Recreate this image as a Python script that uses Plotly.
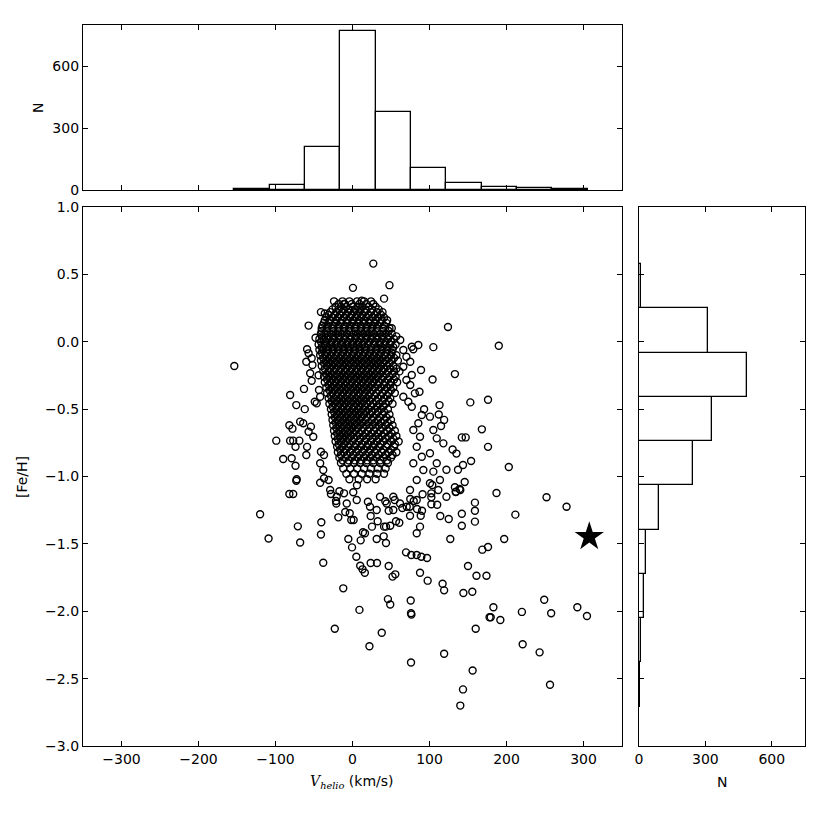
import plotly.graph_objects as go

# ---------------- data ----------------
# Top histogram of V_helio (km/s): bin edges and counts
top_edges = [-153.4, -107.5, -61.7, -15.8, 30.1, 75.9, 121.8, 167.7, 213.5, 259.4, 305.3]
top_counts = [3, 26, 207, 771, 377, 107, 35, 16, 8, 4]

# Right histogram of [Fe/H]: bin edges and counts
right_edges = [-2.708, -2.379, -2.051, -1.722, -1.394, -1.065, -0.737, -0.408, -0.080, 0.249, 0.577]
right_counts = [5, 8, 22, 30, 90, 243, 328, 486, 312, 9]

# Isolated stars (V_helio, [Fe/H])
halo_points = [
    (27, 0.58), (0.6, 0.40), (48, 0.42), (41, 0.32), (-24, 0.30), (-11, 0.28), (12, 0.305),
    (124, 0.11), (-57, 0.12), (-41, 0.22), (-36, 0.21), (-30, 0.16), (105, -0.04), (190, -0.03),
    (133, -0.24), (104, -0.28), (-153.5, -0.18), (-81, -0.395), (-63, -0.35), (-73, -0.47),
    (-62, -0.50), (-82, -0.62), (-78, -0.645), (-99, -0.734), (-81, -0.734), (-77, -0.734),
    (-69, -0.734), (-74, -0.78), (-59, -0.78), (-90, -0.87), (-79, -0.865), (-60, -0.84),
    (-74, -0.92), (-72.5, -1.02), (-82, -1.13), (-77, -1.13), (113, -0.47), (119, -0.58),
    (112, -0.54), (130, -0.80), (135, -0.83), (134, -1.115), (153, -0.45), (176, -0.43),
    (168, -0.65), (147, -0.71), (142, -0.71), (176, -0.78), (203, -0.93), (115, -0.625),
    (137, -0.95), (122, -0.95), (133, -1.08), (143.5, -0.915), (154, -0.885), (140, -1.10),
    (-120, -1.28), (-109, -1.46), (-71, -1.37), (-68, -1.49), (-40.5, -1.34), (-41, -1.43),
    (-38, -1.64), (-12, -1.83), (9, -1.99), (-23, -2.13), (22, -2.26), (38, -2.16), (76, -2.38),
    (76, -2.015), (76.5, -2.025), (46, -1.91), (49, -1.95), (75.6, -1.92), (119, -2.315),
    (156, -2.44), (143.5, -2.58), (140, -2.70), (160, -2.13), (178, -2.045), (179.5, -2.045),
    (183, -1.97), (192, -2.065), (220, -2.005), (221, -2.245), (243, -2.305), (249, -1.915),
    (258, -2.015), (256.5, -2.545), (292, -1.97), (304.5, -2.035), (278, -1.224), (252, -1.154),
    (211.5, -1.283), (197, -1.464), (187, -1.122), (168.6, -1.543), (176, -1.523), (150, -1.664),
    (161, -1.736), (174, -1.736), (155.6, -1.855), (144, -1.865), (119, -1.845), (117, -1.796),
    (97.6, -1.773), (87.7, -1.714), (127, -1.464), (142, -1.365), (142, -1.276), (159, -1.335),
    (159, -1.254), (159, -1.194), (125, -1.315), (114, -1.293), (134.4, -1.113), (139, -1.093),
    (145.7, -1.041), (110, -1.21), (102.4, -1.154), (102.4, -1.206), (103.6, -1.063),
    (69.5, -1.563), (76.4, -1.583), (83.4, -1.583), (89.4, -1.595), (96.8, -1.605), (87.7, -1.372),
    (83.4, -1.421), (74.7, -1.291), (74.3, -1.224), (88.6, -1.291), (90.3, -1.254), (83.8, -1.241),
    (64.7, -1.234), (60.8, -1.343), (56.5, -1.332), (49, -1.365), (43.5, -1.372), (41, -1.372),
    (40.5, -1.444), (43.5, -1.494), (31.4, -1.464), (47, -1.664), (52, -1.743), (55.6, -1.726),
    (23.6, -1.642), (31.8, -1.642), (10, -1.662), (13, -1.689), (16, -1.714), (5, -1.595),
    (-0.6, -1.526), (-5.4, -1.464), (10.6, -1.474), (13.6, -1.414), (16.2, -1.421), (25.3, -1.372),
    (32.7, -1.332), (23.6, -1.293), (31.4, -1.249), (-18.4, -1.303), (-9.4, -1.263), (-3.6, -1.273),
    (-1.6, -1.323), (1.5, -1.323), (5.5, -1.174), (20, -1.187), (42.6, -1.184), (54.8, -1.174),
    (75, -1.167), (79.5, -1.182), (91, -1.132), (102.4, -1.125), (-21.4, -1.182), (-21, -1.2),
    (-28, -1.13), (-17, -1.11), (-11, -1.125), (1, -1.117), (5.8, -1.065), (-42, -1.046),
    (-73, -1.031), (47, -1.254), (53, -1.249),
]

# Stars on the edge of the dense clump (V_helio, [Fe/H])
fringe_points = [
    (-48, 0.03), (-59, -0.056), (-57, -0.086), (-60, -0.148), (-53, -0.123), (-52, -0.173),
    (-55, -0.234), (-53, -0.289), (-44, -0.249), (-43.5, -0.358), (-42, -0.408), (-49, -0.445),
    (-46.5, -0.457), (-68, -0.593), (-64, -0.605), (-54, -0.63), (-57, -0.668), (-51, -0.705),
    (-41, -0.816), (-37, -0.84), (-42, -0.902), (-38, -0.952), (-31, -1.026), (-37, -1.013),
    (-29, -1.10), (-20.5, -1.15), (62, 0.013), (66, -0.061), (77, -0.037), (85.5, -0.024),
    (79, -0.056), (70, -0.111), (75, -0.148), (66, -0.185), (89, -0.21), (77, -0.247),
    (70, -0.284), (75, -0.321), (81, -0.383), (87, -0.371), (66, -0.408), (72.5, -0.445),
    (77, -0.482), (93, -0.501), (90, -0.544), (100.6, -0.556), (85.5, -0.605), (79, -0.655),
    (87.7, -0.705), (105, -0.655), (109.4, -0.717), (118, -0.754), (100.6, -0.828),
    (109.4, -0.902), (105, -0.964), (113.6, -1.026), (100.6, -1.05), (111.4, -1.10),
    (83.4, -0.779), (90, -0.853), (79, -0.902), (92, -0.952), (83.4, -1.026), (74.7, -1.10),
    (83.4, -1.174), (70.4, -1.224), (61.7, -1.20), (122, -1.15), (35.7, -1.15), (44.4, -1.20),
    (22.7, -1.224), (-7.5, -1.20), (53, -1.15), (51, 0.10), (57, 0.04),
]

# Dense clump, read row by row: ([Fe/H] of the row, V_helio values along it)
core_rows = [
    (0.30, [-13, -4, 6, 15, 24]),
    (0.28, [-18, -10, -1, 9, 18, 27]),
    (0.26, [-22, -15, -8, 0, 7, 13, 21, 30]),
    (0.24, [-26, -18, -11, -4, 3, 10, 17, 25, 34]),
    (0.22, [-29, -21, -13, -6, 2, 9, 16, 24, 32, 39]),
    (0.20, [-31, -23, -16, -8, -1, 6, 13, 21, 29, 37]),
    (0.18, [-34, -26, -19, -11, -3, 4, 11, 18, 26, 33, 41]),
    (0.16, [-36, -29, -21, -14, -7, 1, 8, 15, 22, 30, 38, 45]),
    (0.14, [-37, -30, -22, -15, -7, 0, 8, 15, 22, 29, 36, 44]),
    (0.12, [-39, -32, -25, -18, -10, -3, 4, 11, 19, 26, 33, 41]),
    (0.10, [-40, -33, -26, -18, -11, -4, 3, 11, 18, 25, 32, 40, 48]),
    (0.08, [-40, -33, -25, -18, -11, -4, 4, 11, 18, 25, 32, 40, 47]),
    (0.06, [-41, -35, -28, -21, -14, -7, 1, 7, 14, 21, 28, 36, 43, 51]),
    (0.04, [-40, -32, -25, -18, -10, -3, 4, 11, 18, 25, 32, 39, 47]),
    (0.02, [-43, -37, -31, -24, -17, -10, -3, 4, 11, 18, 25, 32, 39, 46, 54]),
    (0.00, [-41, -34, -27, -20, -13, -6, 1, 8, 15, 22, 29, 36, 43, 50]),
    (-0.02, [-44, -36, -29, -22, -15, -8, -1, 6, 13, 20, 28, 35, 42, 49, 56]),
    (-0.04, [-40, -33, -26, -19, -12, -5, 2, 9, 16, 24, 31, 38, 45, 53]),
    (-0.06, [-43, -38, -32, -25, -18, -11, -4, 3, 10, 17, 24, 31, 38, 45, 52]),
    (-0.08, [-40, -33, -26, -19, -12, -5, 2, 9, 16, 23, 30, 37, 44, 51]),
    (-0.10, [-42, -35, -28, -21, -14, -7, 0, 7, 14, 21, 28, 35, 42, 50, 57]),
    (-0.12, [-38, -31, -24, -17, -10, -3, 4, 11, 18, 25, 32, 39, 47, 54]),
    (-0.14, [-41, -34, -27, -20, -13, -6, 1, 8, 15, 22, 29, 36, 43, 51, 59]),
    (-0.16, [-37, -30, -23, -16, -9, -2, 5, 12, 19, 26, 33, 40, 48]),
    (-0.18, [-40, -33, -26, -19, -12, -5, 2, 9, 16, 23, 30, 37, 45, 53]),
    (-0.20, [-36, -29, -22, -15, -8, -1, 6, 13, 20, 27, 34, 41, 49, 57]),
    (-0.22, [-38, -31, -24, -17, -10, -3, 4, 11, 18, 25, 32, 39, 46, 54, 61]),
    (-0.24, [-34, -27, -20, -13, -6, 1, 8, 15, 22, 29, 36, 44, 52]),
    (-0.26, [-37, -30, -23, -16, -9, -2, 5, 12, 19, 26, 33, 40, 48, 56]),
    (-0.28, [-33, -26, -19, -12, -5, 2, 9, 16, 23, 30, 38, 46, 54]),
    (-0.30, [-36, -29, -22, -15, -8, -1, 6, 13, 20, 27, 34, 42, 50, 58]),
    (-0.32, [-31, -24, -17, -10, -3, 4, 11, 18, 25, 33, 41, 49]),
    (-0.34, [-34, -27, -20, -13, -6, 1, 8, 15, 22, 29, 37, 45, 53]),
    (-0.36, [-30, -23, -16, -9, -2, 5, 12, 19, 26, 34, 42, 50]),
    (-0.38, [-33, -26, -19, -12, -5, 2, 9, 16, 23, 31, 39, 47, 55]),
    (-0.40, [-28, -21, -14, -7, 0, 7, 14, 21, 29, 37, 45]),
    (-0.42, [-31, -24, -17, -10, -3, 4, 11, 18, 25, 33, 41, 49]),
    (-0.44, [-27, -20, -13, -6, 1, 8, 15, 22, 31, 39, 47]),
    (-0.46, [-30, -23, -16, -9, -2, 5, 12, 19, 27, 35, 43, 52]),
    (-0.48, [-26, -19, -12, -5, 2, 9, 16, 24, 32, 40]),
    (-0.50, [-28, -21, -14, -7, 0, 7, 14, 21, 29, 37, 46]),
    (-0.52, [-24, -17, -10, -3, 4, 11, 18, 25, 33, 41]),
    (-0.54, [-27, -20, -13, -6, 1, 8, 15, 23, 31, 39, 48]),
    (-0.56, [-23, -16, -9, -2, 5, 12, 19, 27, 35, 44]),
    (-0.58, [-26, -19, -12, -5, 2, 9, 17, 25, 33, 41, 50]),
    (-0.60, [-22, -15, -8, -1, 6, 13, 21, 29, 37, 46]),
    (-0.62, [-25, -18, -11, -4, 3, 10, 18, 26, 34, 43, 52]),
    (-0.64, [-21, -14, -7, 0, 7, 14, 22, 30, 38, 48]),
    (-0.66, [-24, -17, -10, -3, 4, 12, 20, 28, 36, 45, 55]),
    (-0.68, [-20, -13, -6, 1, 9, 17, 25, 33, 41, 51]),
    (-0.70, [-23, -16, -9, -2, 6, 14, 22, 30, 38, 47, 57]),
    (-0.72, [-19, -12, -5, 2, 10, 18, 26, 34, 43, 53]),
    (-0.74, [-22, -15, -8, 0, 8, 16, 24, 32, 40, 50, 60]),
    (-0.76, [-18, -11, -4, 4, 12, 20, 28, 36, 45, 55]),
    (-0.78, [-20, -13, -5, 3, 11, 19, 27, 35, 44, 54]),
    (-0.80, [-16, -9, -1, 7, 15, 23, 31, 40, 50]),
    (-0.82, [-19, -11, -3, 5, 13, 21, 29, 38, 47, 57]),
    (-0.84, [-15, -7, 1, 9, 17, 25, 34, 43, 52]),
    (-0.86, [-17, -9, -1, 7, 15, 23, 31, 40, 50]),
    (-0.88, [-13, -5, 3, 11, 19, 27, 36, 45]),
    (-0.90, [-15, -6, 2, 10, 18, 27, 36, 46]),
    (-0.94, [-12, -3, 6, 15, 24, 33, 43]),
    (-0.98, [-8, 2, 12, 22, 32, 41]),
    (-1.02, [-4, 8, 19, 30]),
]

# The highlighted star
star_v = [307.5]
star_feh = [-1.447]

x_ticks = [-300, -200, -100, 0, 100, 200, 300]
x_ticktext = ["\u2212300", "\u2212200", "\u2212100", "0", "100", "200", "300"]
y_ticks = [-3.0, -2.5, -2.0, -1.5, -1.0, -0.5, 0.0, 0.5, 1.0]
y_ticktext = ["\u22123.0", "\u22122.5", "\u22122.0", "\u22121.5", "\u22121.0", "\u22120.5", "0.0", "0.5", "1.0"]
n_ticks = [0, 300, 600]

# ---------------- build ----------------
v_all = [p[0] for p in halo_points + fringe_points] + [v for f, row in core_rows for v in row]
feh_all = [p[1] for p in halo_points + fringe_points] + [f for f, row in core_rows for v in row]

top_centers = [(a + b) / 2 for a, b in zip(top_edges[:-1], top_edges[1:])]
top_widths = [b - a for a, b in zip(top_edges[:-1], top_edges[1:])]
right_centers = [(a + b) / 2 for a, b in zip(right_edges[:-1], right_edges[1:])]
right_widths = [b - a for a, b in zip(right_edges[:-1], right_edges[1:])]

fig = go.Figure()
fig.add_trace(go.Scatter(
    x=v_all, y=feh_all, mode="markers", xaxis="x", yaxis="y",
    marker=dict(symbol="circle-open", size=7, color="black", line=dict(width=1.4, color="black")),
    showlegend=False, hoverinfo="skip"))
fig.add_trace(go.Scatter(
    x=star_v, y=star_feh, mode="markers", xaxis="x", yaxis="y",
    marker=dict(symbol="star", size=22, color="black", line=dict(width=0)),
    showlegend=False))
fig.add_trace(go.Bar(
    x=top_centers, y=top_counts, width=top_widths, xaxis="x2", yaxis="y2",
    marker=dict(color="white", line=dict(color="black", width=1.3)), showlegend=False))
fig.add_trace(go.Bar(
    y=right_centers, x=right_counts, width=right_widths, orientation="h", xaxis="x3", yaxis="y3",
    marker=dict(color="white", line=dict(color="black", width=1.3)), showlegend=False))

W = 830.0
def fx(px):
    return px / W
def fy(py):
    return 1 - py / W

common = dict(showline=True, linecolor="black", linewidth=1.3, mirror="allticks",
              ticks="inside", ticklen=5, tickwidth=1, tickcolor="black", automargin=False,
              showgrid=False, zeroline=False, tickfont=dict(size=14, color="black"))

ann = dict(xref="paper", yref="paper", xanchor="center", yanchor="middle",
           showarrow=False, font=dict(size=14, color="black"))

fig.update_layout(
    width=830, height=830,
    margin=dict(l=0, r=0, t=0, b=0, pad=0, autoexpand=False),
    paper_bgcolor="white", plot_bgcolor="white",
    font=dict(family="DejaVu Sans", size=14, color="black"),
    bargap=0,
    xaxis=dict(domain=[fx(83), fx(622)], range=[-350, 350], anchor="y",
               tickvals=x_ticks, ticktext=x_ticktext, **common),
    yaxis=dict(domain=[fy(746), fy(207)], range=[-3, 1], anchor="x",
               tickvals=y_ticks, ticktext=y_ticktext, **common),
    xaxis2=dict(domain=[fx(83), fx(622)], range=[-350, 350], anchor="y2",
                tickvals=x_ticks, showticklabels=False, **common),
    yaxis2=dict(domain=[fy(190), fy(25)], range=[0, 800], anchor="x2",
                tickvals=n_ticks, **common),
    xaxis3=dict(domain=[fx(639), fx(805)], range=[0, 750], anchor="y3",
                tickvals=n_ticks, **common),
    yaxis3=dict(domain=[fy(746), fy(207)], range=[-3, 1], anchor="x3",
                tickvals=y_ticks, showticklabels=False, **common),
    annotations=[
        dict(text="[Fe/H]", x=fx(22), y=fy(477), textangle=-90, **ann),
        dict(text="N", x=fx(38), y=fy(108), textangle=-90, **ann),
        dict(text="<span style=\"font-family:'DejaVu Serif'\"><i>V</i><sub><i>helio</i></sub></span> (km/s)",
             x=fx(352), y=fy(782), **ann),
        dict(text="N", x=fx(722), y=fy(782), **ann),
    ],
)

fig.write_html(
    "out.html",
    config={"displayModeBar": False},
    post_script=(
        "document.documentElement.style.margin='0px';"
        "document.body.style.margin='0px';"
        "document.body.style.overflow='hidden';"
        "var d=document.getElementById('{plot_id}');"
        "d.style.position='fixed';d.style.top='0px';d.style.left='0px';"
    ),
)
